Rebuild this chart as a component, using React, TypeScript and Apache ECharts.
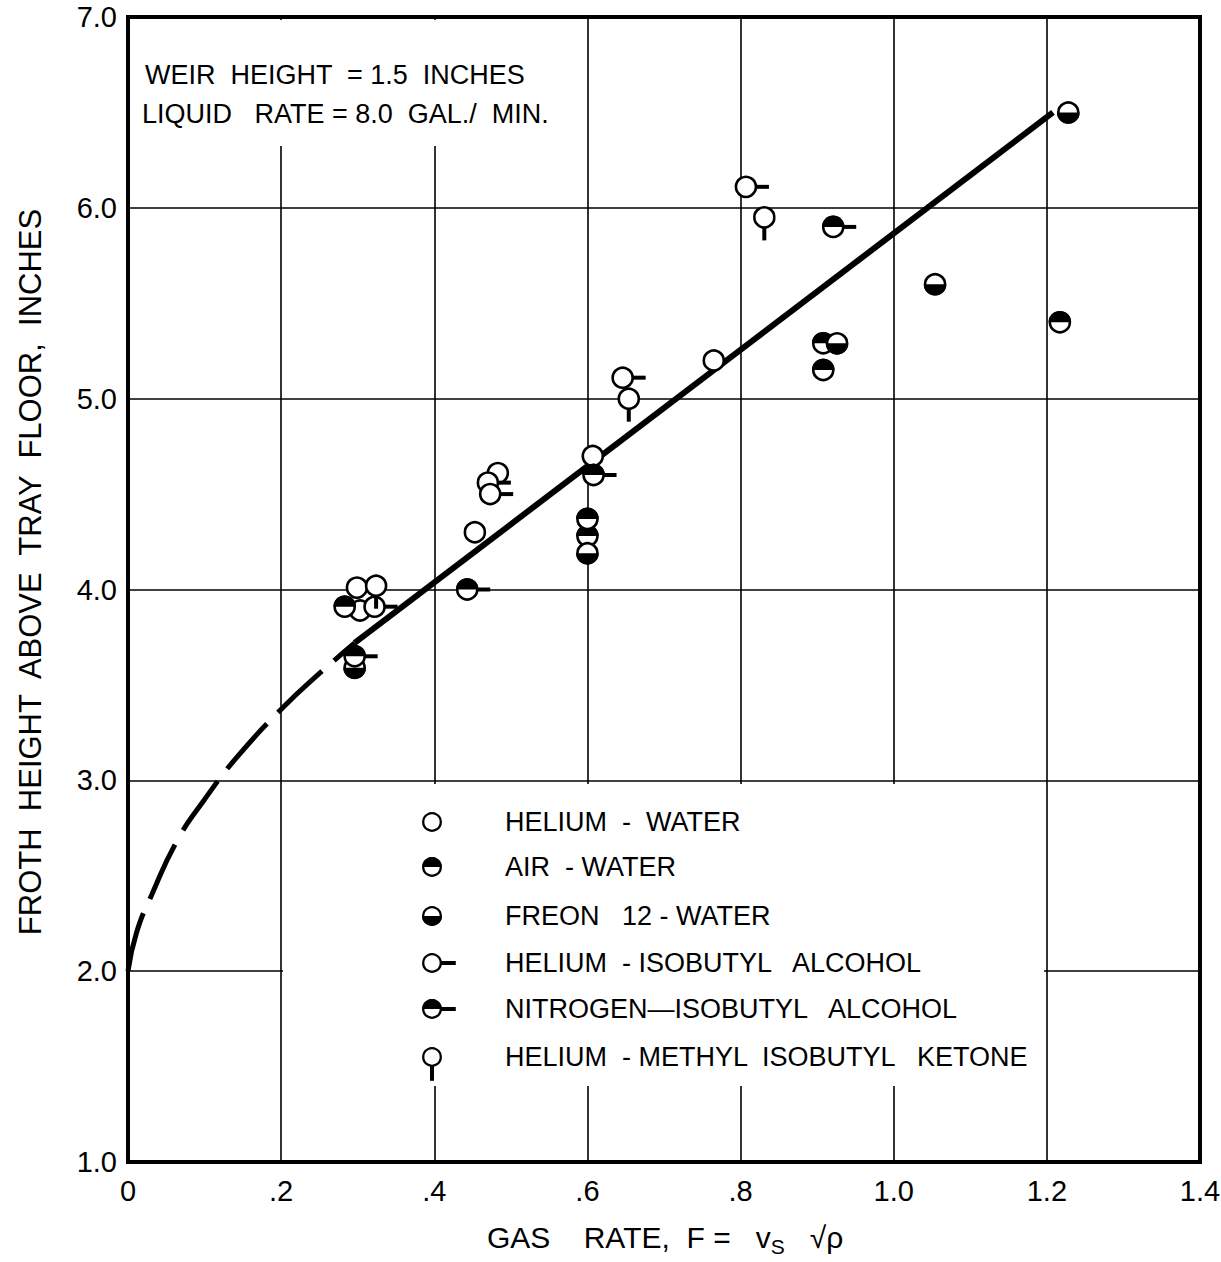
import React, { useEffect, useRef } from "react";
import * as echarts from "echarts";

// ---------- tick labels ----------
const xTickLabels = ["0", ".2", ".4", ".6", ".8", "1.0", "1.2", "1.4"];
const yTickLabels = ["1.0", "2.0", "3.0", "4.0", "5.0", "6.0", "7.0"];

// ---------- data (gas rate F, froth height in.) ----------
const heliumWaterX = [0.303, 0.299, 0.453, 0.483, 0.607, 0.765];
const heliumWaterY = [3.89, 4.01, 4.30, 4.61, 4.70, 5.20];

const airWaterX = [0.283, 0.600, 0.600, 0.908, 0.908, 1.217];
const airWaterY = [3.91, 4.28, 4.37, 5.29, 5.15, 5.40];

const freonWaterX = [0.296, 0.600, 0.926, 1.054, 1.228];
const freonWaterY = [3.59, 4.19, 5.29, 5.60, 6.50];

const heliumIsobutylX = [0.322, 0.470, 0.473, 0.646, 0.807];
const heliumIsobutylY = [3.91, 4.56, 4.50, 5.11, 6.11];

const nitrogenIsobutylX = [0.296, 0.443, 0.608, 0.921];
const nitrogenIsobutylY = [3.65, 4.00, 4.60, 5.90];

const heliumMibkX = [0.324, 0.654, 0.831];
const heliumMibkY = [4.02, 5.00, 5.95];

// correlation line: solid part and dashed extrapolation
const fitSolidX = [0.296, 1.208];
const fitSolidY = [3.72, 6.50];
const fitDashX = [0, 0.011, 0.031, 0.065, 0.1, 0.142, 0.202, 0.25, 0.296];
const fitDashY = [2.0, 2.2, 2.4, 2.69, 2.9, 3.12, 3.38, 3.56, 3.72];

const legendNames = [
  "HELIUM  -  WATER",
  "AIR  - WATER",
  "FREON   12 - WATER",
  "HELIUM  - ISOBUTYL   ALCOHOL",
  "NITROGEN—ISOBUTYL   ALCOHOL",
  "HELIUM  - METHYL  ISOBUTYL   KETONE",
];

const FONT = "'Liberation Sans', Arial, sans-serif";

type Fill = "none" | "top" | "bottom";
type Tail = "none" | "right" | "down";

function markerElements(
  cx: number,
  cy: number,
  r: number,
  fill: Fill,
  tail: Tail,
  tailLen: number,
  lw: number,
  z?: number
) {
  const zz = z === undefined ? {} : { z };
  const children: any[] = [];
  if (tail === "right") {
    children.push({
      type: "line",
      ...zz,
      shape: { x1: cx + r - 1, y1: cy, x2: cx + r + tailLen, y2: cy },
      style: { stroke: "#000", lineWidth: 4 },
    });
  }
  if (tail === "down") {
    children.push({
      type: "line",
      ...zz,
      shape: { x1: cx, y1: cy + r - 1, x2: cx, y2: cy + r + tailLen },
      style: { stroke: "#000", lineWidth: 4 },
    });
  }
  children.push({
    type: "circle",
    ...zz,
    shape: { cx, cy, r },
    style: { fill: "#fff", stroke: "#000", lineWidth: lw },
  });
  if (fill === "top") {
    children.push({
      type: "sector",
      ...zz,
      shape: { cx, cy, r0: 0, r: r + lw / 2, startAngle: Math.PI, endAngle: Math.PI * 2 },
      style: { fill: "#000" },
    });
  }
  if (fill === "bottom") {
    children.push({
      type: "sector",
      ...zz,
      shape: { cx, cy, r0: 0, r: r + lw / 2, startAngle: 0, endAngle: Math.PI },
      style: { fill: "#000" },
    });
  }
  return children;
}

const groups: { name: string; xs: number[]; ys: number[]; fill: Fill; tail: Tail }[] = [
  { name: legendNames[0], xs: heliumWaterX, ys: heliumWaterY, fill: "none", tail: "none" },
  { name: legendNames[1], xs: airWaterX, ys: airWaterY, fill: "top", tail: "none" },
  { name: legendNames[2], xs: freonWaterX, ys: freonWaterY, fill: "bottom", tail: "none" },
  { name: legendNames[3], xs: heliumIsobutylX, ys: heliumIsobutylY, fill: "none", tail: "right" },
  { name: legendNames[4], xs: nitrogenIsobutylX, ys: nitrogenIsobutylY, fill: "top", tail: "right" },
  { name: legendNames[5], xs: heliumMibkX, ys: heliumMibkY, fill: "none", tail: "down" },
];

export default function App() {
  const ref = useRef<HTMLDivElement>(null);

  useEffect(() => {
    if (!ref.current) return;
    const chart = echarts.init(ref.current, null, { renderer: "svg" });

    const scatterSeries = groups.map((g) => ({
      type: "custom",
      name: g.name,
      z: 5,
      silent: true,
      data: g.xs.map((x, i) => [x, g.ys[i]]),
      encode: { x: 0, y: 1 },
      renderItem: (params: any, api: any) => {
        const p = api.coord([api.value(0), api.value(1)]);
        return {
          type: "group",
          children: markerElements(p[0], p[1], 10, g.fill, g.tail, 13, 2.6),
        };
      },
    }));

    const legendRowsY = [822, 867, 916, 963, 1009, 1057];
    const legendGraphics: any[] = [];
    groups.forEach((g, i) => {
      legendGraphics.push({
        type: "group",
        z: 10,
        children: markerElements(432, legendRowsY[i], 8.8, g.fill, g.tail, 15, 2.3, 10),
      });
      legendGraphics.push({
        type: "text",
        z: 10,
        x: 505,
        y: legendRowsY[i],
        style: {
          text: g.name,
          font: `27px ${FONT}`,
          fill: "#000",
          textAlign: "left",
          textVerticalAlign: "middle",
          align: "left",
          verticalAlign: "middle",
        },
      });
    });

    const option: any = {
      animation: false,
      backgroundColor: "#fff",
      grid: {
        left: 128,
        right: 21,
        top: 17,
        bottom: 100,
        show: true,
        borderColor: "#000",
        borderWidth: 4,
        outerBoundsMode: "none",
      },
      xAxis: {
        type: "value",
        min: 0,
        max: 1.4,
        interval: 0.2,
        axisLine: { show: false },
        axisTick: { show: false },
        splitLine: { show: true, lineStyle: { color: "#000", width: 1.6 } },
        axisLabel: {
          margin: 14,
          color: "#000",
          fontSize: 29,
          fontFamily: FONT,
          formatter: (v: number) => xTickLabels[Math.round(v / 0.2)] ?? "",
        },
      },
      yAxis: {
        type: "value",
        min: 1,
        max: 7,
        interval: 1,
        axisLine: { show: false },
        axisTick: { show: false },
        splitLine: { show: true, lineStyle: { color: "#000", width: 1.6 } },
        axisLabel: {
          margin: 11,
          color: "#000",
          fontSize: 29,
          fontFamily: FONT,
          formatter: (v: number) => yTickLabels[Math.round(v - 1)] ?? "",
        },
      },
      series: [
        {
          type: "line",
          name: "fit",
          z: 3,
          silent: true,
          data: fitSolidX.map((x, i) => [x, fitSolidY[i]]),
          showSymbol: false,
          symbol: "none",
          lineStyle: { color: "#000", width: 6 },
        },
        {
          type: "line",
          name: "fit-extrapolated",
          z: 3,
          silent: true,
          smooth: 0.5,
          data: fitDashX.map((x, i) => [x, fitDashY[i]]),
          showSymbol: false,
          symbol: "none",
          lineStyle: { color: "#000", width: 5, type: [60, 16], cap: "butt" },
        },
        ...scatterSeries,
      ],
      graphic: {
        elements: [
          // blank region behind the annotation (grid lines interrupted)
          {
            type: "rect",
            z: 1,
            silent: true,
            shape: { x: 131, y: 20, width: 452, height: 126 },
            style: { fill: "#fff" },
          },
          // blank region behind the legend
          {
            type: "rect",
            z: 1,
            silent: true,
            shape: { x: 283, y: 784, width: 761, height: 302 },
            style: { fill: "#fff" },
          },
          {
            type: "text",
            z: 10,
            x: 145,
            y: 75,
            style: {
              text: "WEIR  HEIGHT  = 1.5  INCHES",
              font: `27px ${FONT}`,
              fill: "#000",
              textAlign: "left",
              textVerticalAlign: "middle",
              align: "left",
              verticalAlign: "middle",
            },
          },
          {
            type: "text",
            z: 10,
            x: 142,
            y: 114,
            style: {
              text: "LIQUID   RATE = 8.0  GAL./  MIN.",
              font: `27px ${FONT}`,
              fill: "#000",
              textAlign: "left",
              textVerticalAlign: "middle",
              align: "left",
              verticalAlign: "middle",
            },
          },
          {
            type: "text",
            z: 10,
            x: 30,
            y: 572,
            rotation: Math.PI / 2,
            style: {
              text: "FROTH  HEIGHT  ABOVE  TRAY  FLOOR,  INCHES",
              font: `31px ${FONT}`,
              fill: "#000",
              textAlign: "center",
              textVerticalAlign: "middle",
              align: "center",
              verticalAlign: "middle",
            },
          },
          {
            type: "text",
            z: 10,
            x: 487,
            y: 1237,
            style: {
              text: "{a|GAS    RATE,  F =   v}{s|S}{a|   √ρ}",
              fill: "#000",
              textAlign: "left",
              textVerticalAlign: "middle",
              align: "left",
              verticalAlign: "middle",
              rich: {
                a: { fontSize: 30, fontFamily: FONT, lineHeight: 40, fill: "#000", color: "#000" },
                s: { fontSize: 21, fontFamily: FONT, lineHeight: 22, verticalAlign: "bottom", fill: "#000", color: "#000" },
              },
            },
          },
          ...legendGraphics,
        ],
      },
    };

    chart.setOption(option);
    return () => chart.dispose();
  }, []);

  return (
    <div
      ref={ref}
      style={{ position: "absolute", left: 0, top: 0, width: 1221, height: 1262, background: "#fff" }}
    />
  );
}
